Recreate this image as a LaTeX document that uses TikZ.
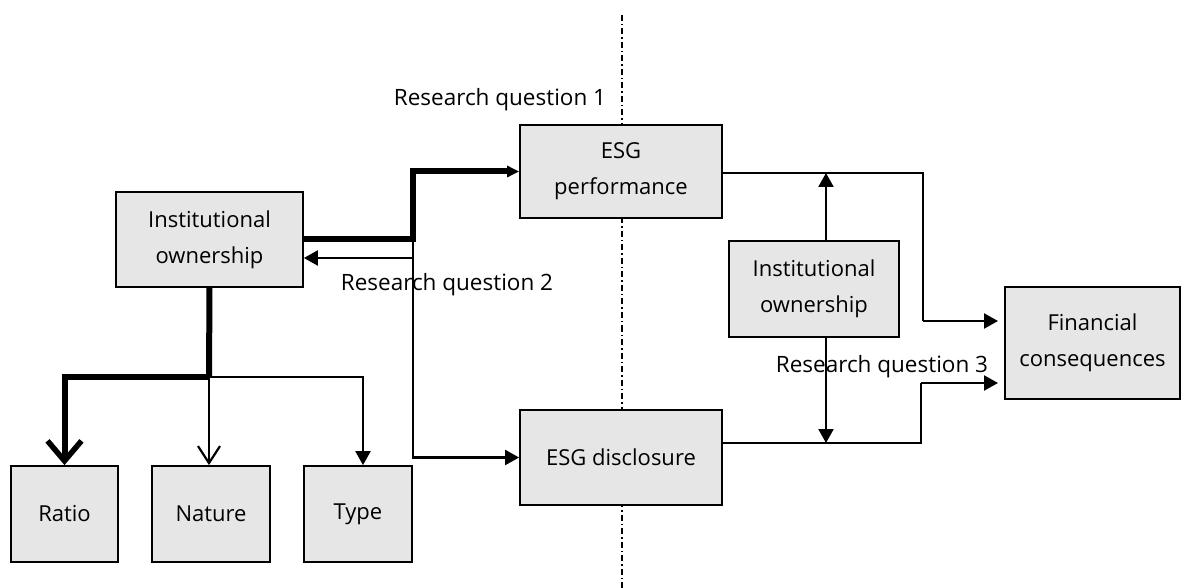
\documentclass[tikz,border=0pt]{standalone}
\usepackage{fontspec}
\setmainfont{Open Sans}
\usetikzlibrary{arrows.meta,calc}
\definecolor{boxgray}{HTML}{E6E6E6}
\tikzset{
  blok/.style={draw,line width=1.8pt,fill=boxgray,align=center,inner sep=0pt,
    font=\fontsize{22}{36}\selectfont},
  rq/.style={font=\fontsize{22.5}{26}\selectfont,inner sep=0pt},
  plain/.style={line width=2.2pt,-{Triangle[length=14pt,width=15pt]}},
  heavy/.style={line width=6pt},
  divide/.style={line width=1.1pt,dash pattern=on 6pt off 3pt on 1.5pt off 3pt}
}
\begin{document}
\begin{tikzpicture}[x=1pt,y=-1pt]
  \useasboundingbox (0,0) rectangle (1187,588);
  % dividing line
  \draw[divide] (622,15) -- (622,588);
  % boxes
  \node[blok,minimum width=187,minimum height=95] (instL) at (209.5,239.5) {Institutional\\ownership};
  \node[blok,minimum width=202,minimum height=93] (perf) at (621,171.5) {ESG\\performance};
  \node[blok,minimum width=202,minimum height=95] (discl) at (621,457.5) {ESG disclosure};
  \node[blok,minimum width=170,minimum height=96] (instR) at (814,289) {Institutional\\ownership};
  \node[blok,minimum width=175,minimum height=112] (fin) at (1092.5,343) {Financial\\consequences};
  \node[blok,minimum width=107,minimum height=96] (ratio) at (64.5,514) {Ratio};
  \node[blok,minimum width=118,minimum height=96] (nature) at (211,514) {Nature};
  \node[blok,minimum width=108,minimum height=96] (type) at (358,514) {Type};
  % labels
  \node[rq] (rq1) at (500,100) {Research question 1};
  \node[rq] (rq2) at (447,285) {Research question 2};
  \node[rq] (rq3) at (882,367) {Research question 3};
  % left part
  \coordinate (jn) at (413,239);
  \coordinate (br) at (209,377);
  \draw[heavy,-{Triangle[length=12pt,width=11pt]}] (instL.east |- jn) -- (jn) |- (perf.west);
  \draw[plain] (jn) |- (discl.west);
  \draw[plain] (jn |- 0,258) -- (instL.east |- 0,258);
  \draw[heavy] (instL.south) -- (br);
  \draw[heavy,-{Straight Barb[length=20pt,width=34pt,line width=5.5pt]}] (br) -| (ratio.north);
  \draw[line width=2.2pt,-{Straight Barb[length=17pt,width=22pt]}] (br) -- (br |- nature.north);
  \draw[plain] (br) -| (363,0 |- type.north);
  % right part
  \coordinate (m) at (826,0);
  \coordinate (pout) at (722,173);
  \coordinate (dout) at (722,443);
  \draw[line width=2.2pt] (perf.east |- pout) -| (923,321);
  \draw[plain] (923,321) -- (998,321);
  \draw[line width=2.2pt] (discl.east |- dout) -| (921,383);
  \draw[plain] (921,383) -- (998,383);
  \draw[plain] (instR.north -| m) -- (m |- pout);
  \draw[plain] (instR.south -| m) -- (m |- dout);
\end{tikzpicture}
\end{document}
